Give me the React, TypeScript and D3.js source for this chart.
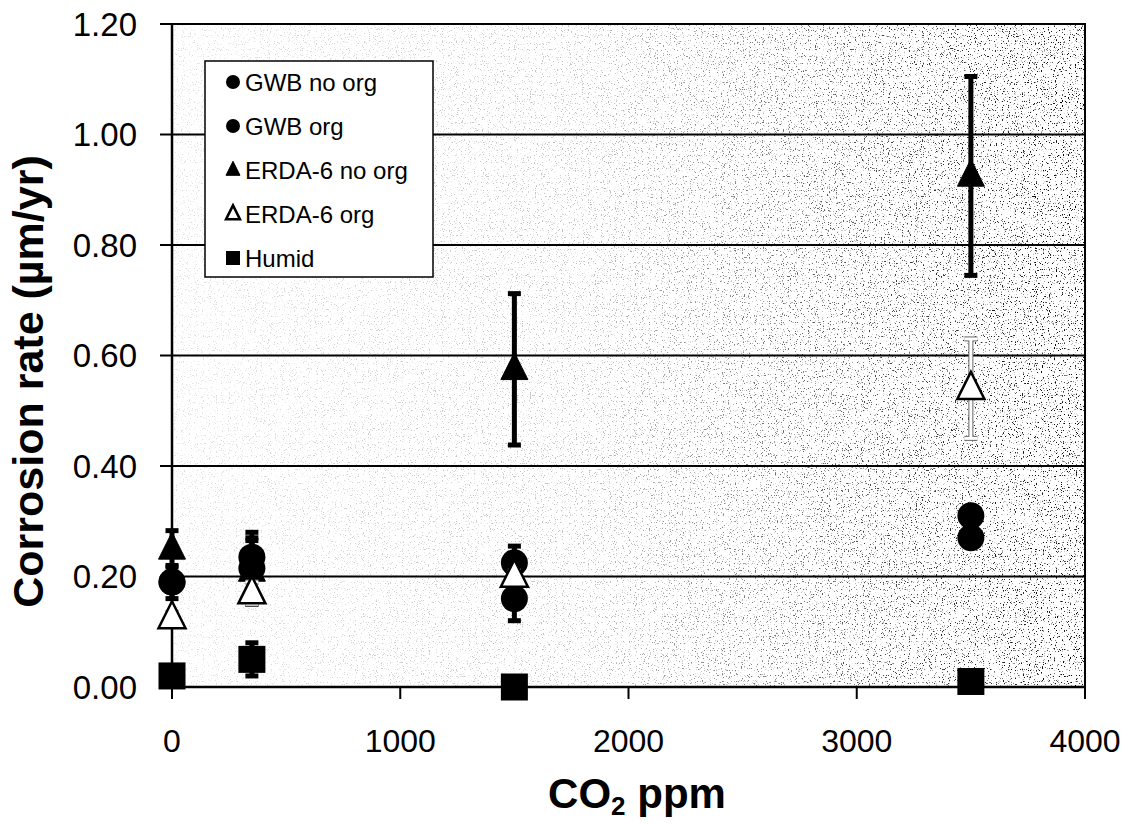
import React from 'react';
import * as d3 from 'd3';

// CO2 levels (ppm) shared by all series
const co2 = [0, 350, 1500, 3500];

// corrosion rates (um/yr) and error half-widths
const gwbNoOrg = [0.19, 0.215, 0.16, 0.27];
const gwbNoOrgErr = [0.03, 0.065, 0.04, 0.01];
const gwbOrg = [0.19, 0.235, 0.225, 0.31];
const gwbOrgErr = [0.01, 0.03, 0.03, 0.01];
const erdaNoOrg = [0.25, 0.21, 0.575, 0.925];
const erdaNoOrgErr = [0.033, 0.06, 0.137, 0.18];
const erdaOrg = [0.125, 0.17, 0.2, 0.54];
const erdaOrgErr = [0.01, 0.02, 0.01, 0.09];
const humid = [0.02, 0.05, 0.0, 0.01];
const humidErr = [0.01, 0.03, 0.0, 0.0];

const seriesNames = ['GWB no org', 'GWB org', 'ERDA-6 no org', 'ERDA-6 org', 'Humid'];
const xTicks = [0, 1000, 2000, 3000, 4000];
const yTicks = [0, 0.2, 0.4, 0.6, 0.8, 1.0, 1.2];

const W = 1130, H = 824;
const left = 172, right = 1085, top = 24, bottom = 687;

const x = d3.scaleLinear().domain([0, 4000]).range([left, right]);
const y = d3.scaleLinear().domain([0, 1.2]).range([bottom, top]);

const series = [
  { name: seriesNames[0], vals: gwbNoOrg, err: gwbNoOrgErr, shape: 'circle', open: false },
  { name: seriesNames[1], vals: gwbOrg, err: gwbOrgErr, shape: 'circle', open: false },
  { name: seriesNames[2], vals: erdaNoOrg, err: erdaNoOrgErr, shape: 'triangle', open: false },
  { name: seriesNames[3], vals: erdaOrg, err: erdaOrgErr, shape: 'triangle', open: true },
  { name: seriesNames[4], vals: humid, err: humidErr, shape: 'square', open: false },
];

const Marker = ({ shape, open, cx, cy, s }: any) => {
  const fill = open ? '#fff' : '#000';
  const sw = open ? 2.5 : 0;
  if (shape === 'circle') return <circle cx={cx} cy={cy} r={s / 2} fill={fill} stroke="#000" strokeWidth={sw} />;
  if (shape === 'square') return <rect x={cx - s / 2} y={cy - s / 2} width={s} height={s} fill={fill} />;
  const h = s * 1.0;
  const pts = [[cx, cy - h * 0.62], [cx + s / 2, cy + h * 0.38], [cx - s / 2, cy + h * 0.38]];
  return <polygon points={pts.map(p => p.join(',')).join(' ')} fill={fill} stroke="#000" strokeWidth={open ? 2.5 : 1} strokeLinejoin="miter" />;
};

const ErrBar = ({ cx, v, e, light }: any) => {
  if (!e) return null;
  const y1 = y(v + e), y2 = y(v - e);
  const cap = 13;
  const parts = [
    [cx, y1, cx, y2],
    [cx - cap / 2, y1, cx + cap / 2, y1],
    [cx - cap / 2, y2, cx + cap / 2, y2],
  ];
  return (
    <g>
      {parts.map((p, i) => (
        <line key={'o' + i} x1={p[0]} y1={p[1]} x2={p[2]} y2={p[3]} stroke={light ? '#666' : '#000'} strokeWidth={5} />
      ))}
      {light && parts.map((p, i) => (
        <line key={'i' + i} x1={p[0]} y1={p[1]} x2={p[2]} y2={p[3]} stroke="#fff" strokeWidth={3} />
      ))}
    </g>
  );
};

const App = () => {
  const font = 'Arial, "Liberation Sans", sans-serif';
  return (
    <svg width={W} height={H} style={{ position: 'absolute', left: 0, top: 0, background: '#fff' }} fontFamily={font}>
      <defs>
        <filter id="speckle" x="0" y="0" width="100%" height="100%">
          <feTurbulence type="fractalNoise" baseFrequency="0.85" numOctaves="2" seed="3" result="n" />
          <feColorMatrix in="n" type="matrix" values="0 0 0 0 0  0 0 0 0 0  0 0 0 0 0  9 0 0 0 -5.6" />
        </filter>
        <linearGradient id="fade" x1="0" y1="0" x2="1" y2="0">
          <stop offset="0" stopColor="#fff" stopOpacity={0.12} />
          <stop offset="0.45" stopColor="#fff" stopOpacity={0.25} />
          <stop offset="0.75" stopColor="#fff" stopOpacity={0.7} />
          <stop offset="1" stopColor="#fff" stopOpacity={1} />
        </linearGradient>
        <mask id="fadeMask">
          <rect x={left} y={top} width={right - left} height={bottom - top} fill="url(#fade)" />
        </mask>
      </defs>

      {/* plot area with scanned stipple */}
      <rect x={left} y={top} width={right - left} height={bottom - top} fill="#fff" />
      <g mask="url(#fadeMask)">
        <rect x={left} y={top} width={right - left} height={bottom - top} filter="url(#speckle)" />
      </g>

      {/* gridlines */}
      {yTicks.slice(1, -1).map(t => (
        <line key={t} x1={left} x2={right} y1={y(t)} y2={y(t)} stroke="#000" strokeWidth={2} />
      ))}
      <rect x={left} y={top} width={right - left} height={bottom - top} fill="none" stroke="#000" strokeWidth={2} />
      <line x1={left} x2={left} y1={top} y2={bottom} stroke="#000" strokeWidth={2.5} />
      <line x1={left} x2={right} y1={bottom} y2={bottom} stroke="#000" strokeWidth={2.5} />

      {/* y axis */}
      {yTicks.map(t => (
        <g key={t}>
          <line x1={left - 12} x2={left} y1={y(t)} y2={y(t)} stroke="#000" strokeWidth={2} />
          <text x={137} y={y(t)} dy="0.36em" textAnchor="end" fontSize={33}>{d3.format('.2f')(t)}</text>
        </g>
      ))}
      {/* x axis */}
      {xTicks.map(t => (
        <g key={t}>
          <line x1={x(t)} x2={x(t)} y1={bottom} y2={bottom + 12} stroke="#000" strokeWidth={2} />
          <text x={x(t)} y={752} textAnchor="middle" fontSize={32}>{t}</text>
        </g>
      ))}

      <text transform={`translate(43,${(155 + 608) / 2}) rotate(-90)`} textAnchor="middle" fontSize={43} fontWeight="bold">
        Corrosion rate (µm/yr)
      </text>
      <text x={637} y={808} textAnchor="middle" fontSize={42} fontWeight="bold">
        CO<tspan fontSize={26} dy={7}>2</tspan><tspan dy={-7}> ppm</tspan>
      </text>

      {/* series */}
      {series.map(s => (
        <g key={s.name}>
          {co2.map((c, i) => (
            <ErrBar key={'e' + i} cx={x(c)} v={s.vals[i]} e={s.err[i]} light={s.open} />
          ))}
          {co2.map((c, i) => (
            <Marker key={'m' + i} shape={s.shape} open={s.open} cx={x(c)} cy={y(s.vals[i])} s={27} />
          ))}
        </g>
      ))}

      {/* legend */}
      <g>
        <rect x={205} y={61} width={228} height={216} fill="#fff" stroke="#000" strokeWidth={1.5} />
        {series.map((s, i) => {
          const ly = 82 + i * 44;
          return (
            <g key={s.name}>
              <Marker shape={s.shape} open={s.open} cx={233} cy={ly} s={14} />
              <text x={245} y={ly} dy="0.36em" fontSize={24}>{s.name}</text>
            </g>
          );
        })}
      </g>
    </svg>
  );
};

export default App;
